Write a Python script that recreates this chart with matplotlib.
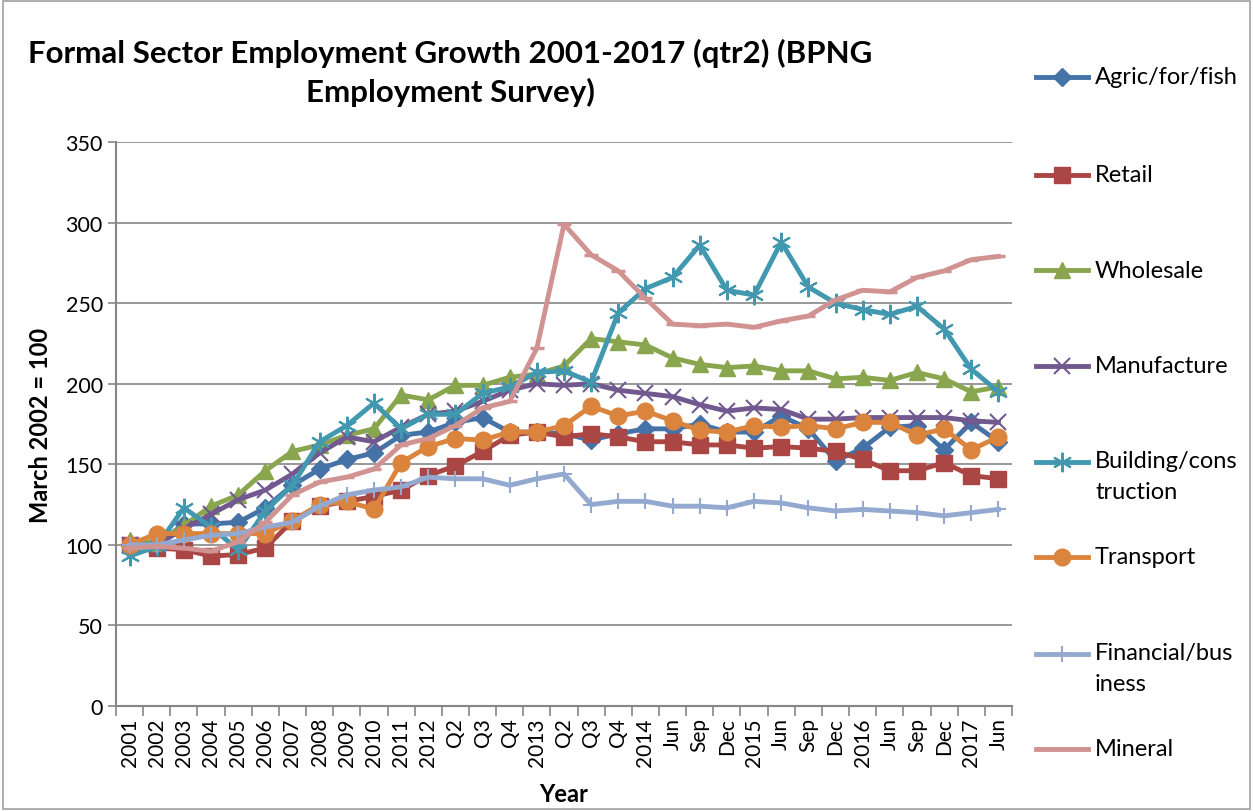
import matplotlib
matplotlib.use("Agg")
import matplotlib.pyplot as plt
from matplotlib.lines import Line2D
from matplotlib.patches import Rectangle

plt.rcParams['font.family'] = ['Lato', 'DejaVu Sans']

categories = ["2001", "2002", "2003", "2004", "2005", "2006", "2007", "2008", "2009",
              "2010", "2011", "2012", "Q2", "Q3", "Q4", "2013", "Q2", "Q3", "Q4",
              "2014", "Jun", "Sep", "Dec", "2015", "Jun", "Sep", "Dec", "2016",
              "Jun", "Sep", "Dec", "2017", "Jun"]

agric = [100, 100, 113, 113, 114, 123, 137, 147, 153, 157, 168, 170, 176, 179, 170, 170,
         169, 165, 169, 172, 172, 175, 170, 170, 180, 172, 152, 160, 173, 174, 159, 176, 164]
retail = [100, 98, 97, 93, 94, 98, 115, 124, 127, 130, 134, 143, 149, 158, 168, 170,
          167, 169, 167, 164, 164, 162, 162, 160, 161, 160, 158, 153, 146, 146, 151, 143, 141]
wholesale = [103, 101, 112, 124, 131, 146, 158, 162, 168, 172, 193, 190, 199, 199, 204, 206,
             211, 228, 226, 224, 216, 212, 210, 211, 208, 208, 203, 204, 202, 207, 203, 195, 198]
manufacture = [100, 100, 110, 119, 128, 134, 144, 157, 167, 164, 173, 181, 183, 189, 196, 200,
               199, 200, 196, 194, 192, 187, 183, 185, 184, 178, 178, 179, 179, 179, 179, 177, 176]
building = [93, 99, 123, 111, 97, 121, 137, 164, 174, 188, 172, 181, 181, 194, 198, 207,
            208, 201, 244, 259, 266, 286, 258, 255, 288, 260, 250, 246, 243, 248, 234, 209, 195]
transport = [100, 107, 107, 107, 107, 107, 115, 125, 127, 122, 151, 161, 166, 165, 170, 170,
             174, 186, 180, 183, 177, 171, 170, 174, 173, 174, 172, 176, 176, 168, 172, 159, 167]
financial = [100, 100, 103, 106, 107, 111, 114, 124, 131, 134, 136, 142, 141, 141, 137, 141,
             144, 125, 127, 127, 124, 124, 123, 127, 126, 123, 121, 122, 121, 120, 118, 120, 122]
mineral = [98, 99, 98, 96, 102, 114, 131, 139, 142, 147, 162, 166, 174, 185, 189, 222,
           299, 280, 270, 253, 237, 236, 237, 235, 239, 242, 252, 258, 257, 266, 270, 277, 279]

series_names = ["Agric/for/fish", "Retail", "Wholesale", "Manufacture",
                "Building/cons\ntruction", "Transport", "Financial/bus\niness", "Mineral"]
series_values = [agric, retail, wholesale, manufacture, building, transport, financial, mineral]
colors = ["#4572A7", "#AA4643", "#89A54E", "#71588F", "#4198AF", "#DB843D", "#93A9CF", "#D19392"]
markers = ["D", "s", "^", "x", (6, 2, 0), "o", "+", "_"]
msizes = [9, 11, 11, 11, 14, 12, 12, 10]
mews = [1, 1, 1, 1.5, 1.5, 1, 1.5, 2.5]

fig = plt.figure(figsize=(12.53, 8.12), dpi=100)
fig.patches.append(Rectangle((0.002, 0.002), 0.996, 0.996, transform=fig.transFigure,
                             fill=False, edgecolor="#A0A0A0", linewidth=1.2))
ax = fig.add_axes([116 / 1253, 1 - 707 / 812, (1012 - 116) / 1253, (707 - 143) / 812])

x = list(range(len(categories)))
lines = []
for vals, c, m, ms, mew in zip(series_values, colors, markers, msizes, mews):
    ln, = ax.plot(x, vals, color=c, linewidth=3.5, marker=m, markersize=ms,
                  markeredgewidth=mew, markeredgecolor=c, markerfacecolor=c,
                  solid_joinstyle="round")
    lines.append(ln)

ax.set_ylim(0, 350)
ax.set_yticks(range(0, 351, 50))
ax.set_xlim(-0.5, len(categories) - 0.5)
ax.set_xticks(x)
ax.set_xticklabels(categories, rotation=90, fontsize=15)
ax.set_xticks([i - 0.5 for i in range(len(categories) + 1)], minor=True)
ax.tick_params(axis="x", which="major", length=0, pad=8)
ax.tick_params(axis="x", which="minor", length=7, color="#868686", width=1.2)
ax.tick_params(axis="y", which="major", length=6, color="#868686", width=1.2, labelsize=15.5)
ax.grid(axis="y", color="#868686", linewidth=1.2)
ax.set_axisbelow(True)
for s in ["top", "right"]:
    ax.spines[s].set_visible(False)
for s in ["left", "bottom"]:
    ax.spines[s].set_color("#868686")
    ax.spines[s].set_linewidth(1.5)

ax.set_ylabel("March 2002 = 100", fontsize=17, fontweight="bold", labelpad=10)
ax.set_xlabel("Year", fontsize=17, fontweight="bold", labelpad=12)

fig.text(450 / 1253, 1 - 73 / 812,
         "Formal Sector Employment Growth 2001-2017 (qtr2) (BPNG\nEmployment Survey)",
         ha="center", va="center", fontsize=22.5, fontweight="bold", linespacing=1.4)

# legend drawn manually to mimic the Excel layout
leg_y = [78, 176, 271, 367, 463, 558, 655, 750]
for ln, name, yy in zip(lines, series_names, leg_y):
    yf = 1 - yy / 812
    h = Line2D([1036 / 1253, 1088 / 1253], [yf, yf], transform=fig.transFigure,
               color=ln.get_color(), linewidth=3.5)
    fig.add_artist(h)
    mk = Line2D([1062 / 1253], [yf], transform=fig.transFigure, linestyle="none",
                marker=ln.get_marker(), markersize=ln.get_markersize(),
                markeredgewidth=ln.get_markeredgewidth(), color=ln.get_color())
    fig.add_artist(mk)
    if "\n" in name:
        fig.text(1095 / 1253, yf + 12 / 812, name, ha="left", va="top",
                 fontsize=17, linespacing=1.6, transform=fig.transFigure)
    else:
        fig.text(1095 / 1253, yf, name, ha="left", va="center",
                 fontsize=17, transform=fig.transFigure)

fig.savefig("out.png", dpi=100)
